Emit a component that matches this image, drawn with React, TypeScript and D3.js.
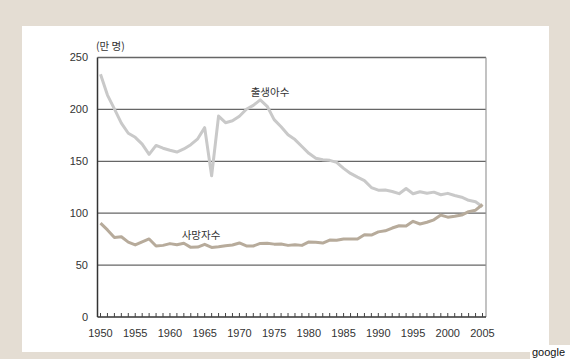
import { useEffect, useRef } from "react";
import * as d3 from "d3";

const years = d3.range(1950, 2006);

// 출생아수 (만 명)
const births = [
  233.8, 213.8, 200.5, 186.8, 177.0, 173.1, 166.5, 156.7, 165.3, 162.6,
  160.6, 158.9, 161.9, 166.0, 171.7, 182.4, 136.1, 193.6, 187.2, 189.0,
  193.4, 200.1, 203.9, 209.2, 203.0, 190.1, 183.3, 175.5, 170.9, 164.3,
  157.7, 152.9, 151.5, 150.9, 149.0, 143.2, 138.3, 134.7, 131.4, 124.7,
  122.2, 122.3, 120.9, 118.8, 123.8, 118.7, 120.7, 119.2, 120.3, 117.8,
  119.1, 117.1, 115.4, 112.4, 111.1, 106.3,
];

// 사망자수 (만 명)
const deaths = [
  90.5, 83.9, 76.5, 77.3, 72.1, 69.4, 72.4, 75.2, 68.4, 69.0,
  70.7, 69.6, 71.0, 67.1, 67.4, 70.0, 67.0, 67.6, 68.7, 69.4,
  71.3, 68.5, 68.4, 70.9, 71.1, 70.2, 70.3, 69.0, 69.6, 69.0,
  72.3, 72.0, 71.2, 74.1, 74.0, 75.2, 75.1, 75.1, 79.3, 78.9,
  82.0, 83.0, 85.7, 87.9, 87.6, 92.2, 89.6, 91.3, 93.6, 98.2,
  96.2, 97.0, 98.2, 101.5, 102.9, 108.4,
];

const yTicks = [0, 50, 100, 150, 200, 250];
const xLabels = [1950, 1955, 1960, 1965, 1970, 1975, 1980, 1985, 1990, 1995, 2000, 2005];

const W = 570;
const H = 359;
const numFont = "'Liberation Sans', Arial, sans-serif";
const krFont = "'Noto Sans CJK KR', 'Noto Sans', sans-serif";

export default function App() {
  const axisRef = useRef<SVGGElement>(null);

  const plot = { left: 97.5, right: 486, top: 57.5, bottom: 317 };
  const x = d3.scaleLinear().domain([1950, 2005]).range([100.5, 482.5]);
  const y = d3.scaleLinear().domain([0, 250]).range([plot.bottom, plot.top]);

  const line = d3
    .line<number>()
    .x((_, i) => x(years[i]))
    .y((d) => y(d))
    .curve(d3.curveLinear);

  useEffect(() => {
    const g = d3.select(axisRef.current);
    g.selectAll("*").remove();
    // small yearly ticks pointing up from the bottom axis
    g.selectAll("line")
      .data(years)
      .join("line")
      .attr("x1", (d) => x(d))
      .attr("x2", (d) => x(d))
      .attr("y1", plot.bottom)
      .attr("y2", plot.bottom - 4)
      .attr("stroke", "#444")
      .attr("stroke-width", 1);
  }, []);

  return (
    <svg
      width={W}
      height={H}
      style={{ position: "absolute", left: 0, top: 0, background: "#e4ddd3" }}
    >
      <rect x={22} y={26} width={527} height={326} fill="#ffffff" />
      <rect x={530} y={345} width={40} height={14} fill="#ffffff" />
      <text x={532} y={356} fontFamily={numFont} fontSize={11} fill="#111">
        google
      </text>

      {/* gridlines */}
      {yTicks.slice(1).map((t) => (
        <line
          key={t}
          x1={plot.left}
          x2={plot.right}
          y1={y(t)}
          y2={y(t)}
          stroke="#666"
          strokeWidth={1.3}
        />
      ))}
      {/* right border */}
      <line
        x1={plot.right}
        x2={plot.right}
        y1={plot.top}
        y2={plot.bottom}
        stroke="#9a9a9a"
        strokeWidth={1.2}
      />

      {/* series */}
      <path d={line(births) || ""} fill="none" stroke="#c9c9c9" strokeWidth={3} strokeLinejoin="round" />
      <path d={line(deaths) || ""} fill="none" stroke="#b7ab9b" strokeWidth={3} strokeLinejoin="round" />

      {/* axes */}
      <line x1={plot.left} x2={plot.left} y1={plot.top} y2={plot.bottom} stroke="#333" strokeWidth={1.5} />
      <line x1={plot.left} x2={plot.right} y1={plot.bottom} y2={plot.bottom} stroke="#333" strokeWidth={1.5} />
      <g ref={axisRef} />

      {yTicks.map((t) => (
        <text
          key={t}
          x={88}
          y={y(t)}
          dy="0.35em"
          textAnchor="end"
          fontFamily={numFont}
          fontSize={11}
          fill="#333"
        >
          {t}
        </text>
      ))}
      {xLabels.map((yr) => (
        <text
          key={yr}
          x={x(yr)}
          y={337}
          textAnchor="middle"
          fontFamily={numFont}
          fontSize={11}
          fill="#333"
        >
          {yr}
        </text>
      ))}

      <text x={96} y={50} fontFamily={krFont} fontSize={10.5} fill="#333">
        (만 명)
      </text>
      <text x={270} y={96} textAnchor="middle" fontFamily={krFont} fontSize={10.5} fill="#333">
        출생아수
      </text>
      <text x={201} y={239} textAnchor="middle" fontFamily={krFont} fontSize={10.5} fill="#333">
        사망자수
      </text>
    </svg>
  );
}
